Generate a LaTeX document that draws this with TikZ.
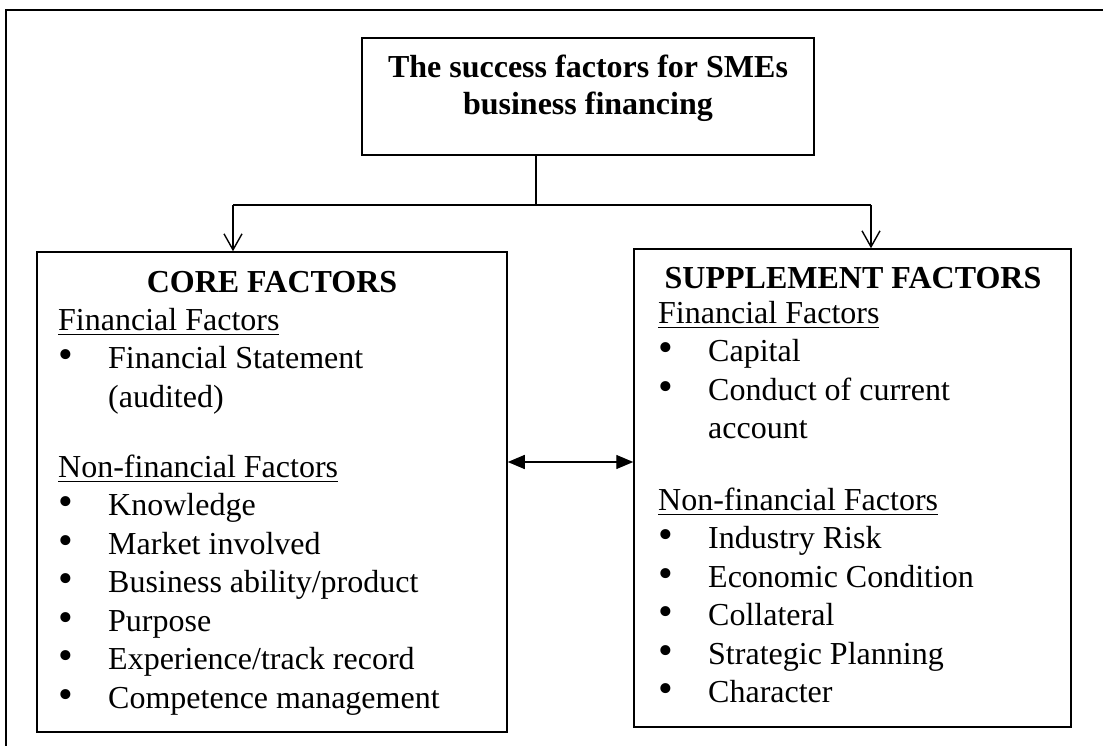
\documentclass[tikz,border=0pt]{standalone}
\usepackage{fontspec}
\setmainfont{Liberation Serif}
\usetikzlibrary{arrows}
\usetikzlibrary{arrows.meta}
\usetikzlibrary{calc}
\tikzset{>=latex}
\tikzset{
    box/.style={draw, line width=1.5pt, inner sep=0pt},
    head/.style={font=\fontsize{32}{37}\selectfont\bfseries, inner sep=0pt, anchor=base},
    list/.style={font=\fontsize{32}{38.5}\selectfont, inner sep=0pt, align=left, anchor=base west},
    down/.style={-{Straight Barb[length=16pt,width=18pt]}, line width=1.4pt},
    both/.style={{Triangle[length=17pt,width=14pt]}-{Triangle[length=17pt,width=14pt]}, line width=1.4pt}
}
\newcommand{\subhead}[1]{\setbox0\hbox{#1}\rlap{\rule[-5pt]{\wd0}{1.5pt}}\box0}
\newcommand{\bul}[1]{\makebox[50pt][l]{\fontsize{42}{42}\selectfont\textbullet}#1}

\begin{document}
\begin{tikzpicture}[x=1pt,y=-1pt]

    \useasboundingbox (0,0) rectangle (1103,746);

    % frame, only top and left edges show
    \draw[line width=2pt] (6,746) -- (6,10) -- (1103,10);

    % base of a multi-line node is its last line
    \node[box, minimum width=452pt, minimum height=117pt] (title) at (588,96.5) {};
    \node[head, align=center] (titletext) at (588,115) {The success factors for SMEs\\business financing};

    \node[box, minimum width=470pt, minimum height=480pt] (core) at (272,492) {};
    \node[head] (corehead) at (272,292) {CORE FACTORS};
    \node[list] (corelist) at (58,708) {\subhead{Financial Factors}\\
        \bul{Financial Statement}\\
        \makebox[50pt]{}(audited)\\[31.5pt]
        \subhead{Non-financial Factors}\\
        \bul{Knowledge}\\
        \bul{Market involved}\\
        \bul{Business ability/product}\\
        \bul{Purpose}\\
        \bul{Experience/track record}\\
        \bul{Competence management}};

    \node[box, minimum width=437pt, minimum height=478pt] (supp) at (852.5,488) {};
    \node[head] (supphead) at (853,288) {SUPPLEMENT FACTORS};
    \node[list] (supplist) at (658,702.5) {\subhead{Financial Factors}\\
        \bul{Capital}\\
        \bul{Conduct of current}\\
        \makebox[50pt]{}account\\[33pt]
        \subhead{Non-financial Factors}\\
        \bul{Industry Risk}\\
        \bul{Economic Condition}\\
        \bul{Collateral}\\
        \bul{Strategic Planning}\\
        \bul{Character}};

    % connectors
    \coordinate (split) at (536,205);
    \coordinate (jl) at (233,205);
    \coordinate (jr) at (871,205);
    \draw[line width=1.4pt] (title.south -| split) -- (split);
    \draw[line width=1.4pt] (jl) -- (jr);
    \draw[down] (jl) -- (jl |- core.north);
    \draw[down] (jr) -- (jr |- supp.north);

    \coordinate (mid) at (570,462);
    \draw[both] (core.east |- mid) -- (supp.west |- mid);

\end{tikzpicture}
\end{document}
